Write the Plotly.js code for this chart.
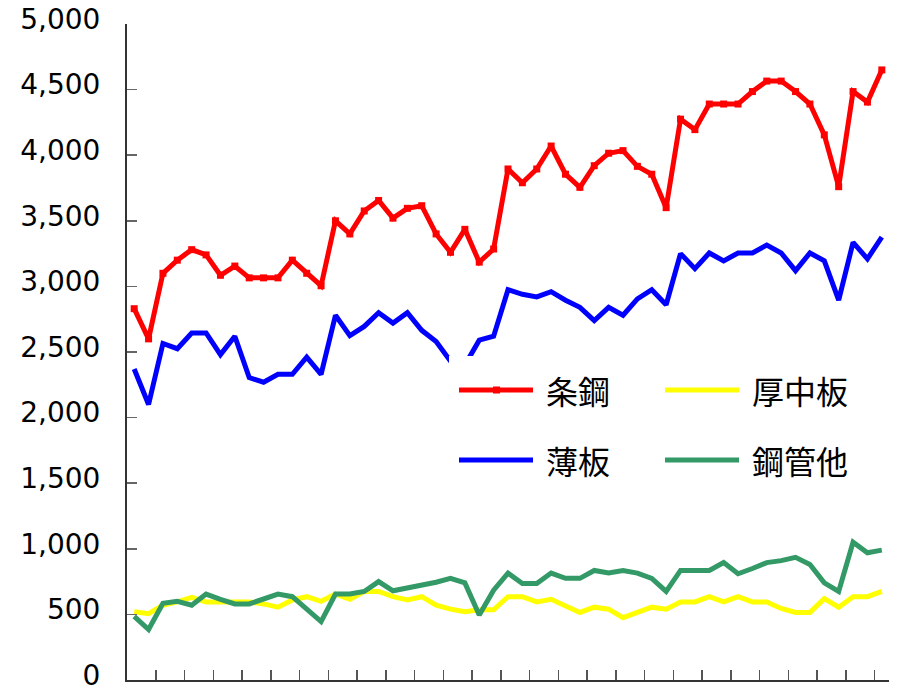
<!DOCTYPE html>
<html>
<head>
<meta charset="utf-8">
<script src="https://cdn.plot.ly/plotly-3.0.1.min.js"></script>
<style>html,body{margin:0;padding:0;background:#fff;}#chart{width:900px;height:688px;}</style>
</head>
<body>
<div id="chart"></div>
<script>
const periods = ['1','2','3','4','5','6','7','8','9','10','11','12','13','14','15','16','17','18','19','20',
  '21','22','23','24','25','26','27','28','29','30','31','32','33','34','35','36','37','38','39','40',
  '41','42','43','44','45','46','47','48','49','50','51','52','53'];

const seriesNames = ['条鋼', '薄板', '厚中板', '鋼管他'];

const barsSteel = [2830, 2600, 3100, 3200, 3280, 3240, 3085, 3155, 3065, 3065, 3065, 3200, 3100, 3005,
  3500, 3400, 3575, 3655, 3520, 3595, 3615, 3400, 3260, 3435, 3185, 3285, 3895, 3790, 3895, 4070,
  3855, 3755, 3920, 4015, 4035, 3915, 3855, 3600, 4275, 4195, 4390, 4390, 4390, 4485, 4565, 4565,
  4485, 4390, 4155, 3760, 4485, 4405, 4650];

const sheet = [2370, 2100, 2565, 2525, 2645, 2645, 2480, 2620, 2305, 2270, 2330, 2330, 2460, 2330,
  2780, 2625, 2695, 2800, 2720, 2800, 2665, 2580, 2430, 2400, 2590, 2620, 2975, 2940, 2920, 2960,
  2895, 2840, 2740, 2840, 2780, 2905, 2975, 2860, 3250, 3135, 3255, 3195, 3255, 3255, 3315, 3255,
  3120, 3255, 3195, 2895, 3335, 3210, 3375];

const plate = [520, 505, 570, 595, 630, 595, 595, 595, 595, 580, 555, 610, 635, 600, 655, 615, 675,
  675, 635, 610, 635, 570, 540, 520, 535, 535, 635, 635, 595, 615, 565, 515, 555, 540, 475, 520,
  555, 540, 595, 595, 635, 595, 635, 595, 595, 545, 515, 515, 620, 555, 635, 635, 675];

const pipes = [485, 385, 585, 600, 570, 655, 615, 580, 580, 615, 655, 635, 535, 445, 655, 655, 675,
  750, 680, 700, 725, 745, 775, 740, 495, 685, 815, 735, 735, 815, 775, 775, 835, 815, 835, 815,
  775, 675, 835, 835, 835, 895, 810, 850, 895, 910, 935, 880, 740, 675, 1050, 970, 990];

const yTicks = [0, 500, 1000, 1500, 2000, 2500, 3000, 3500, 4000, 4500, 5000];

const colors = ['#FF0000', '#0000FF', '#FFFF00', '#339966'];

const traces = [
  {x: periods, y: barsSteel, name: seriesNames[0], type: 'scatter', mode: 'lines+markers',
   line: {color: colors[0], width: 5}, marker: {symbol: 'square', size: 7, color: colors[0]}},
  {x: periods, y: sheet, name: seriesNames[1], type: 'scatter', mode: 'lines',
   line: {color: colors[1], width: 5}},
  {x: periods, y: plate, name: seriesNames[2], type: 'scatter', mode: 'lines',
   line: {color: colors[2], width: 5}},
  {x: periods, y: pipes, name: seriesNames[3], type: 'scatter', mode: 'lines',
   line: {color: colors[3], width: 5}}
];

// layout geometry (pixels)
const W = 900, H = 688;
const M = {l: 127, r: 11, t: 24, b: 8};
const pw = W - M.l - M.r, ph = H - M.t - M.b;
const px = v => (v - M.l) / pw;
const py = v => (H - M.b - v) / ph;

const shapes = [];
const annotations = [];
// legend box
shapes.push({type: 'rect', xref: 'paper', yref: 'paper', layer: 'above',
  x0: px(449), x1: px(872), y0: py(356), y1: py(494),
  fillcolor: '#FFFFFF', line: {width: 0}});
const legendItems = [
  {i: 0, lx: 459, ly: 390},
  {i: 2, lx: 665, ly: 390},
  {i: 1, lx: 459, ly: 460},
  {i: 3, lx: 665, ly: 460}
];
legendItems.forEach(it => {
  shapes.push({type: 'line', xref: 'paper', yref: 'paper', layer: 'above',
    x0: px(it.lx), x1: px(it.lx + 74), y0: py(it.ly), y1: py(it.ly),
    line: {color: colors[it.i], width: 5}});
  if (it.i === 0) {
    shapes.push({type: 'rect', xref: 'paper', yref: 'paper', layer: 'above',
      x0: px(it.lx + 34), x1: px(it.lx + 41), y0: py(it.ly - 3.5), y1: py(it.ly + 3.5),
      fillcolor: colors[0], line: {width: 0}});
  }
  annotations.push({xref: 'paper', yref: 'paper', x: px(it.lx + 85), y: py(it.ly),
    xanchor: 'left', yanchor: 'middle', showarrow: false, text: seriesNames[it.i],
    font: {family: 'Noto Sans CJK JP, sans-serif', size: 32, color: '#000'}});
});

const layout = {
  width: W, height: H,
  margin: M,
  paper_bgcolor: '#FFFFFF', plot_bgcolor: '#FFFFFF',
  showlegend: false,
  xaxis: {
    type: 'category', range: [-0.5, periods.length - 0.5], autorange: false,
    showticklabels: false, showgrid: false, zeroline: false,
    showline: true, linecolor: '#333333', linewidth: 2,
    ticks: 'inside', tickson: 'boundaries', ticklen: 10, tickcolor: '#555555', tickwidth: 1.5
  },
  yaxis: {
    range: [0, 5000], autorange: false, tickvals: yTicks, tickformat: ',', showgrid: false, zeroline: false,
    showline: true, linecolor: '#333333', linewidth: 2,
    ticks: 'inside', ticklen: 10, tickcolor: '#666666', tickwidth: 1.5,
    ticklabelstandoff: 19, ticklabeloverflow: 'allow', ticklabelshift: -5,
    tickfont: {family: 'DejaVu Sans, Verdana, sans-serif', size: 28, color: '#000000'}
  },
  shapes: shapes,
  annotations: annotations
};

Plotly.newPlot('chart', traces, layout, {displayModeBar: false, staticPlot: true});
</script>
</body>
</html>
